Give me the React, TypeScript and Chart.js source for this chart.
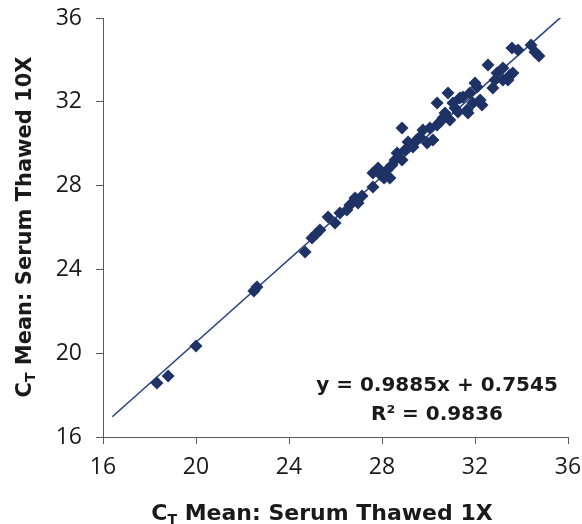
import React, { useEffect, useRef } from "react";
import { Chart, registerables } from "chart.js";

Chart.register(...registerables);

// Scatter data: CT Mean Serum Thawed 1X (x) vs 10X (y)
const xValues = [
  18.32, 18.8, 20.0, 22.49, 22.62, 24.69, 24.99, 25.16, 25.33, 25.68,
  25.98, 26.19, 26.49, 26.84, 26.97, 27.14, 27.61, 27.61, 27.83, 28.22,
  28.34, 28.56, 28.65, 28.86, 28.86, 29.12, 29.33, 29.63, 29.76, 29.94,
  30.19, 30.37, 30.49, 30.37, 30.71, 30.84, 30.92, 31.14, 31.35, 31.66,
  31.78, 32.09, 31.91, 32.22, 32.3, 31.7, 32.56, 32.95, 32.77, 33.2,
  33.51, 33.2, 33.63, 33.59, 33.85, 34.41, 34.58, 34.75, 28.09, 28.43,
  30.06, 30.62, 31.05, 31.48, 32.0, 26.62, 27.96, 28.99, 29.49, 31.27,
  32.86, 33.42,
];
const yValues = [
  18.58, 18.91, 20.34, 22.97, 23.16, 24.83, 25.5, 25.69, 25.88, 26.5,
  26.21, 26.69, 26.84, 27.41, 27.17, 27.5, 27.93, 28.6, 28.84, 28.74,
  28.36, 29.22, 29.56, 29.22, 30.75, 30.08, 29.84, 30.32, 30.65, 30.03,
  30.18, 30.89, 31.04, 31.94, 31.47, 32.42, 31.13, 31.7, 32.18, 31.61,
  32.42, 32.71, 31.94, 32.09, 31.85, 31.47, 33.76, 33.37, 32.66, 33.04,
  33.28, 33.61, 33.37, 34.57, 34.47, 34.71, 34.38, 34.19, 28.36, 28.98,
  30.75, 31.23, 31.94, 32.23, 32.9, 27.07, 28.5, 29.7, 30.18, 31.51,
  33.04, 33.04,
];

const axisMin = 16;
const axisMax = 36;
const axisStep = 4;

const slope = 0.9885;
const intercept = 0.7545;
const rSquared = 0.9836;
const trendXRange = [16.4, 35.75];

const xTitleParts = ["C", "T", " Mean: Serum Thawed 1X"];
const yTitleParts = ["C", "T", " Mean: Serum Thawed 10X"];

const pointColor = "#1E3265";
const lineColor = "#2B4580";
const axisColor = "#5a5a5a";
const textColor = "#1a1a1a";
const titleFont = '"DejaVu Sans", sans-serif';
const tickFont = '"Open Sans", sans-serif';

function drawSubTitle(
  ctx: CanvasRenderingContext2D,
  parts: string[],
  cx: number,
  cy: number,
  size: number
) {
  const big = `bold ${size}px ${titleFont}`;
  const small = `bold ${Math.round(size * 0.65)}px ${titleFont}`;
  ctx.font = big;
  const w0 = ctx.measureText(parts[0]).width;
  const w2 = ctx.measureText(parts[2]).width;
  ctx.font = small;
  const w1 = ctx.measureText(parts[1]).width;
  const total = w0 + w1 + w2;
  let x = cx - total / 2;
  const baseline = cy + size * 0.36;
  ctx.textBaseline = "alphabetic";
  ctx.textAlign = "left";
  ctx.fillStyle = textColor;
  ctx.font = big;
  ctx.fillText(parts[0], x, baseline);
  x += w0;
  ctx.font = small;
  ctx.fillText(parts[1], x, baseline + size * 0.2);
  x += w1;
  ctx.font = big;
  ctx.fillText(parts[2], x, baseline);
}

const annotationPlugin = {
  id: "annotations",
  afterDraw(chart: any) {
    const ctx: CanvasRenderingContext2D = chart.ctx;
    ctx.save();
    // X axis title
    drawSubTitle(ctx, xTitleParts, 322, 512, 22);
    // Y axis title
    ctx.save();
    ctx.translate(23, 227);
    ctx.rotate(-Math.PI / 2);
    drawSubTitle(ctx, yTitleParts, 0, 0, 21);
    ctx.restore();
    // Equation
    ctx.fillStyle = textColor;
    ctx.font = `bold 20px ${titleFont}`;
    ctx.textAlign = "center";
    ctx.textBaseline = "middle";
    const eq = `y = ${slope.toFixed(4)}x + ${intercept.toFixed(4)}`;
    ctx.fillText(eq, 437, 386);
    ctx.fillText(`R² = ${rSquared.toFixed(4)}`, 437, 415);
    ctx.restore();
  },
};

export default function App() {
  const canvasRef = useRef<HTMLCanvasElement | null>(null);

  useEffect(() => {
    document.body.style.margin = "0";
    const canvas = canvasRef.current;
    if (!canvas) return;

    const scatter = xValues.map((x, i) => ({ x, y: yValues[i] }));
    const trend = trendXRange.map((x) => ({ x, y: slope * x + intercept }));

    const chart = new Chart(canvas, {
      type: "scatter",
      data: {
        datasets: [
          {
            label: "trend",
            data: trend,
            showLine: true,
            borderColor: lineColor,
            borderWidth: 1.6,
            pointRadius: 0,
            order: 2,
          },
          {
            label: "points",
            data: scatter,
            pointStyle: "rectRot",
            pointRadius: 6.5,
            pointBackgroundColor: pointColor,
            pointBorderWidth: 0,
            backgroundColor: pointColor,
            borderWidth: 0,
            order: 1,
          },
        ],
      },
      options: {
        responsive: false,
        animation: false,
        layout: { padding: { top: 18, right: 14, left: 0, bottom: 0 } },
        plugins: {
          legend: { display: false },
          tooltip: { enabled: false },
        },
        scales: {
          x: {
            type: "linear",
            min: axisMin,
            max: axisMax,
            ticks: {
              stepSize: axisStep,
              font: { family: tickFont, size: 23 },
              color: textColor,
              padding: 10,
              maxRotation: 0,
            },
            grid: {
              drawOnChartArea: false,
              drawTicks: true,
              tickLength: 7,
              color: axisColor,
            },
            border: { color: axisColor, width: 1 },
            afterFit(scale: any) {
              scale.height = 87;
              scale.paddingLeft = 0;
              scale.paddingRight = 0;
            },
          },
          y: {
            type: "linear",
            min: axisMin,
            max: axisMax,
            ticks: {
              stepSize: axisStep,
              font: { family: tickFont, size: 23 },
              color: textColor,
              padding: 14,
            },
            grid: {
              drawOnChartArea: false,
              drawTicks: true,
              tickLength: 7,
              color: axisColor,
            },
            border: { color: axisColor, width: 1 },
            afterFit(scale: any) {
              scale.width = 103;
              scale.paddingTop = 0;
              scale.paddingBottom = 0;
            },
          },
        },
      },
      plugins: [annotationPlugin],
    });

    return () => chart.destroy();
  }, []);

  return (
    <div style={{ width: 582, height: 524, background: "#fff" }}>
      <canvas ref={canvasRef} width={582} height={524} style={{ display: "block" }} />
    </div>
  );
}
